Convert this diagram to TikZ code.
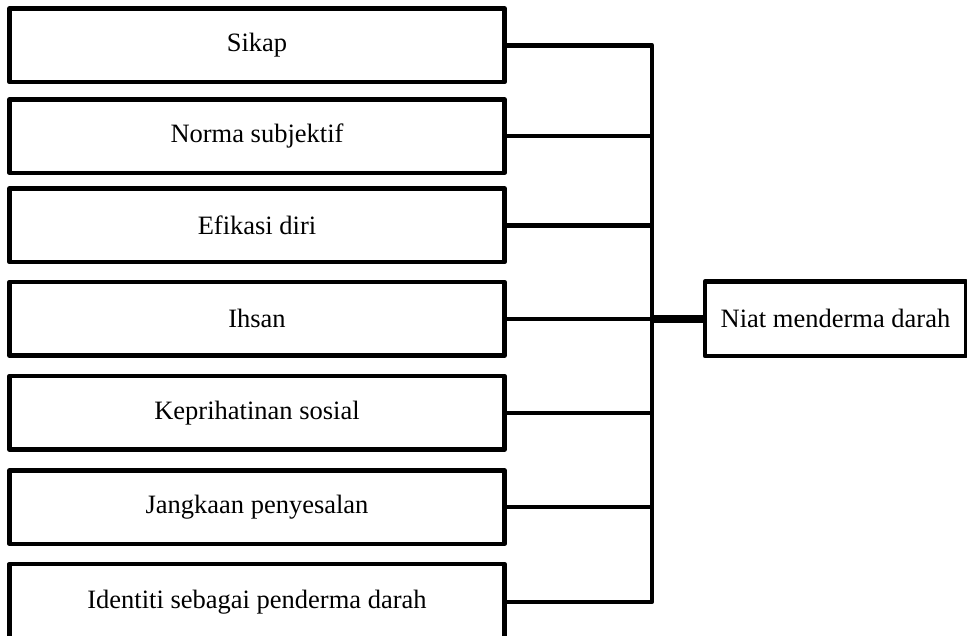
\documentclass[tikz,border=0pt]{standalone}
\usepackage{fontspec}
\setmainfont{Liberation Serif}
\begin{document}
\begin{tikzpicture}[x=1pt,y=-1pt,
  factor/.style={draw=black,line width=4.5pt,line join=round,rectangle,inner sep=0pt,
    minimum width=495pt,minimum height=73.5pt,font=\fontsize{26.5}{30}\selectfont},
  lastfactor/.style={factor,minimum height=76pt},
  goalbox/.style={factor,minimum width=261pt,minimum height=74.5pt},
  link/.style={draw=black,line width=4.5pt,line join=round},
  thicklink/.style={draw=black,line width=7.5pt}]
\useasboundingbox (0,0) rectangle (967,635);
\node[factor] (b1) at (257,45.25) {Sikap};
\node[factor] (b2) at (257,136) {Norma subjektif};
\node[factor] (b3) at (257,225.25) {Efikasi diri};
\node[factor] (b4) at (257,318.75) {Ihsan};
\node[factor] (b5) at (257,412.75) {Keprihatinan sosial};
\node[factor] (b6) at (257,507) {Jangkaan penyesalan};
\node[lastfactor] (b7) at (257,601.75) {Identiti sebagai penderma darah};
\node[goalbox] (g) at (835.5,318.75) {Niat menderma darah};
\coordinate (vx) at (652,0);
\draw[link] (b1.east) -- (b1.east -| vx) -- (b7.east -| vx) -- (b7.east);
\draw[link] (b2.east) -- (b2.east -| vx);
\draw[link] (b3.east) -- (b3.east -| vx);
\draw[link] (b4.east) -- (b4.east -| vx);
\draw[link] (b5.east) -- (b5.east -| vx);
\draw[link] (b6.east) -- (b6.east -| vx);
\draw[thicklink] (g.west -| vx) -- (g.west);
\end{tikzpicture}
\end{document}
